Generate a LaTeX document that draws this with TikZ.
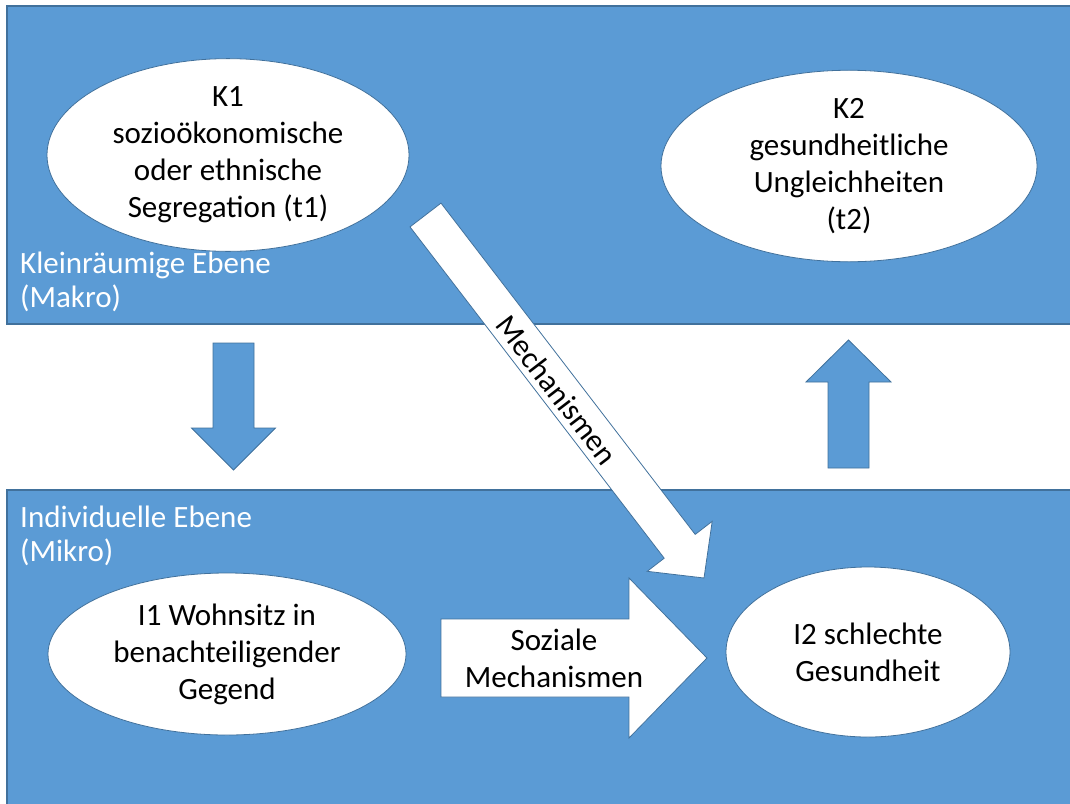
\documentclass[tikz,border=0pt]{standalone}
\usepackage{fontspec}
\setmainfont{Carlito}
\usetikzlibrary{shapes.geometric}
\definecolor{levelblue}{HTML}{5B9BD5}
\definecolor{edgeblue}{HTML}{41719C}
\begin{document}
\begin{tikzpicture}[x=1pt,y=-1pt,
  level/.style={fill=levelblue,draw=edgeblue,line width=1.3pt},
  concept/.style={ellipse,fill=white,draw=edgeblue,line width=0.8pt,inner sep=0pt,
    align=center,text=black,font=\fontsize{31}{37}\selectfont},
  levellabel/.style={anchor=base west,inner sep=0pt,align=left,text=white,
    font=\fontsize{31}{34}\selectfont},
  blockarrow/.style={fill=white,draw=edgeblue,line width=0.8pt,line join=miter},
  bluearrow/.style={fill=levelblue,draw=edgeblue,line width=0.8pt,line join=miter},
  arrowtext/.style={inner sep=0pt,align=center,text=black,font=\fontsize{31}{37}\selectfont}]
\useasboundingbox (0,0) rectangle (1070,803);

% the two levels
\path[level] (7,6) rectangle (1085,324);
\path[level] (7,490) rectangle (1085,815);

% level captions (anchored at the baseline of their last line)
\node[levellabel] (makro) at (20,307) {Kleinräumige Ebene\\(Makro)};
\node[levellabel] (mikro) at (20,561) {Individuelle Ebene\\(Mikro)};

% macro level concepts
\node[concept,minimum width=362pt,minimum height=174pt] (K1) at (228,155)
  {K1\\sozioökonomische\\oder ethnische\\Segregation (t1)};
\node[concept,minimum width=376pt,minimum height=176pt] (K2) at (849,166)
  {K2\\gesundheitliche\\Ungleichheiten\\(t2)};

% micro level concepts
\node[concept,minimum width=358pt,minimum height=162pt] (I1) at (227,654)
  {I1 Wohnsitz in\\benachteiligender\\Gegend};
\node[concept,minimum width=284pt,minimum height=170pt] (I2) at (868,652)
  {I2 schlechte\\Gesundheit};

% downward transition (macro to micro)
\path[bluearrow] (213,343) -- (254,343) -- (254,428) -- (275.5,428)
  -- (233.5,470) -- (191.5,428) -- (213,428) -- cycle;

% upward aggregation (micro to macro)
\path[bluearrow] (828,468) -- (869,468) -- (869,382) -- (891,382)
  -- (848.5,340) -- (806,382) -- (828,382) -- cycle;

% social mechanisms I1 -> I2
\path[blockarrow] (441,619) -- (629,619) -- (629,578) -- (707,658)
  -- (629,738) -- (629,697) -- (441,697) -- cycle;
\node[arrowtext] (soz) at (554,658) {Soziale\\Mechanismen};

% mechanisms K1 -> I2
\path[blockarrow] (410,226.9) -- (441,203.1) -- (695.2,534.4) -- (712.2,521.3)
  -- (704,578) -- (647.2,571.3) -- (664.2,558.2) -- cycle;
\node[arrowtext,rotate=-52.5] (mech) at (557,390) {Mechanismen};
\end{tikzpicture}
\end{document}
